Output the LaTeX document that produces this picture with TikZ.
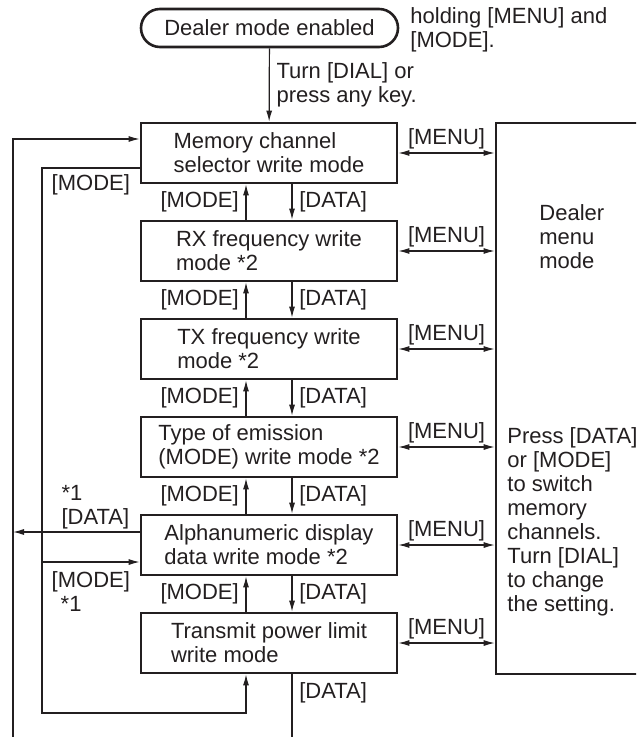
\documentclass[tikz,border=0pt]{standalone}
\usepackage{fontspec}
\setmainfont{Liberation Sans}
\usetikzlibrary{arrows.meta,positioning}

\definecolor{ink}{HTML}{231F20}
\newcommand{\dmfont}{\fontsize{11}{12}\selectfont}

\tikzstyle{startmode} = [rectangle, rounded corners=9.5pt, minimum width=128.5pt, minimum height=19pt, draw=ink, line width=1.3pt, font=\dmfont]
\tikzstyle{modebox} = [rectangle, minimum width=128pt, minimum height=30pt, align=left, draw=ink, line width=1.3pt, font=\dmfont]
\tikzstyle{menubox} = [rectangle, minimum width=100pt, minimum height=275.5pt, draw=ink, line width=1.3pt]
\tikzstyle{note} = [align=left, inner sep=0pt, anchor=north west, font=\dmfont]
\tikzstyle{arrow} = [draw=ink, line width=0.6pt, ->, >={Latex[length=5.5pt,width=3pt]}, every node/.style={font=\dmfont}]
\tikzstyle{twoway} = [arrow, <->]

\begin{document}
\begin{tikzpicture}[x=0.5pt, y=-0.5pt, node distance=49pt, text=ink]
        \useasboundingbox (0,0) rectangle (636,737);
        \clip (0,0) rectangle (636,737);

            \node (start) [startmode] at (269.5,28) {Dealer mode enabled};
            \node (hold) [note] at (410,7) {holding [MENU] and\\{[MODE].}};

            \node (mem) [modebox] at (269,153) {Memory channel\\selector write mode};
            \node (rx) [modebox, below of=mem] {RX frequency write\\mode *2};
            \node (tx) [modebox, below of=rx] {TX frequency write\\mode *2};
            \node (emis) [modebox, below of=tx] {Type of emission\\(MODE) write mode *2};
            \node (alpha) [modebox, below of=emis] {Alphanumeric display\\data write mode *2};
            \node (power) [modebox, below of=alpha] {Transmit power limit\\write mode};

            \node (dealer) [menubox] at (596,398.5) {};
            \node (menutxt) [note] at (539,204) {Dealer\\menu\\mode};
            \node (presstxt) [note] at (507,427) {Press [DATA]\\or [MODE]\\to switch\\memory\\channels.\\Turn [DIAL]\\to change\\the setting.};

            \coordinate (outbot) at (13,737);
            \coordinate (inbot) at (42,713);
            \coordinate (databot) at (292,737);
            \coordinate (memin) at ([yshift=7pt]mem.west);
            \coordinate (memout) at ([yshift=-7.5pt]mem.west);
            \coordinate (alphaout) at ([yshift=6.5pt]alpha.west);
            \coordinate (alphain) at ([yshift=-8.5pt]alpha.west);

            \draw [arrow] (start) -- (mem) node[midway,right,align=left] {Turn [DIAL] or\\press any key.};

            \draw [arrow] ([xshift=-11.5pt]rx.north) -- ([xshift=-11.5pt]mem.south) node[midway,left] {[MODE]};
            \draw [arrow] ([xshift=11.5pt]mem.south) -- ([xshift=11.5pt]rx.north) node[midway,right] {[DATA]};
            \draw [arrow] ([xshift=-11.5pt]tx.north) -- ([xshift=-11.5pt]rx.south) node[midway,left] {[MODE]};
            \draw [arrow] ([xshift=11.5pt]rx.south) -- ([xshift=11.5pt]tx.north) node[midway,right] {[DATA]};
            \draw [arrow] ([xshift=-11.5pt]emis.north) -- ([xshift=-11.5pt]tx.south) node[midway,left] {[MODE]};
            \draw [arrow] ([xshift=11.5pt]tx.south) -- ([xshift=11.5pt]emis.north) node[midway,right] {[DATA]};
            \draw [arrow] ([xshift=-11.5pt]alpha.north) -- ([xshift=-11.5pt]emis.south) node[midway,left] {[MODE]};
            \draw [arrow] ([xshift=11.5pt]emis.south) -- ([xshift=11.5pt]alpha.north) node[midway,right] {[DATA]};
            \draw [arrow] ([xshift=-11.5pt]power.north) -- ([xshift=-11.5pt]alpha.south) node[midway,left] {[MODE]};
            \draw [arrow] ([xshift=11.5pt]alpha.south) -- ([xshift=11.5pt]power.north) node[midway,right] {[DATA]};
            \draw [arrow, -] ([xshift=11.5pt]power.south) -- (databot) node[pos=0.3,right] {[DATA]};

            \draw [twoway] (mem.east) -- (mem.east -| dealer.west) node[midway,above,inner sep=1.7pt] {[MENU]};
            \draw [twoway] (rx.east) -- (rx.east -| dealer.west) node[midway,above,inner sep=1.7pt] {[MENU]};
            \draw [twoway] (tx.east) -- (tx.east -| dealer.west) node[midway,above,inner sep=1.7pt] {[MENU]};
            \draw [twoway] (emis.east) -- (emis.east -| dealer.west) node[midway,above,inner sep=1.7pt] {[MENU]};
            \draw [twoway] (alpha.east) -- (alpha.east -| dealer.west) node[midway,above,inner sep=1.7pt] {[MENU]};
            \draw [twoway] (power.east) -- (power.east -| dealer.west) node[midway,above,inner sep=1.7pt] {[MENU]};

            % *1 loops on the left
            \draw [arrow] (outbot) |- (memin);
            \draw [arrow] (alphaout) -- (alphaout -| outbot) node[pos=0.35,above,align=left,inner sep=1.2pt] {*1\\{[DATA]}};
            \draw [arrow] (memout) -| (inbot) node[pos=0.25,below,inner sep=3pt] {[MODE]} -| ([xshift=-11.5pt]power.south);
            \draw [arrow] (alphain -| inbot) -- (alphain) node[midway,below,align=left,inner sep=4.5pt] {[MODE]\\\hspace*{4.5pt}*1};

\end{tikzpicture}
\end{document}
